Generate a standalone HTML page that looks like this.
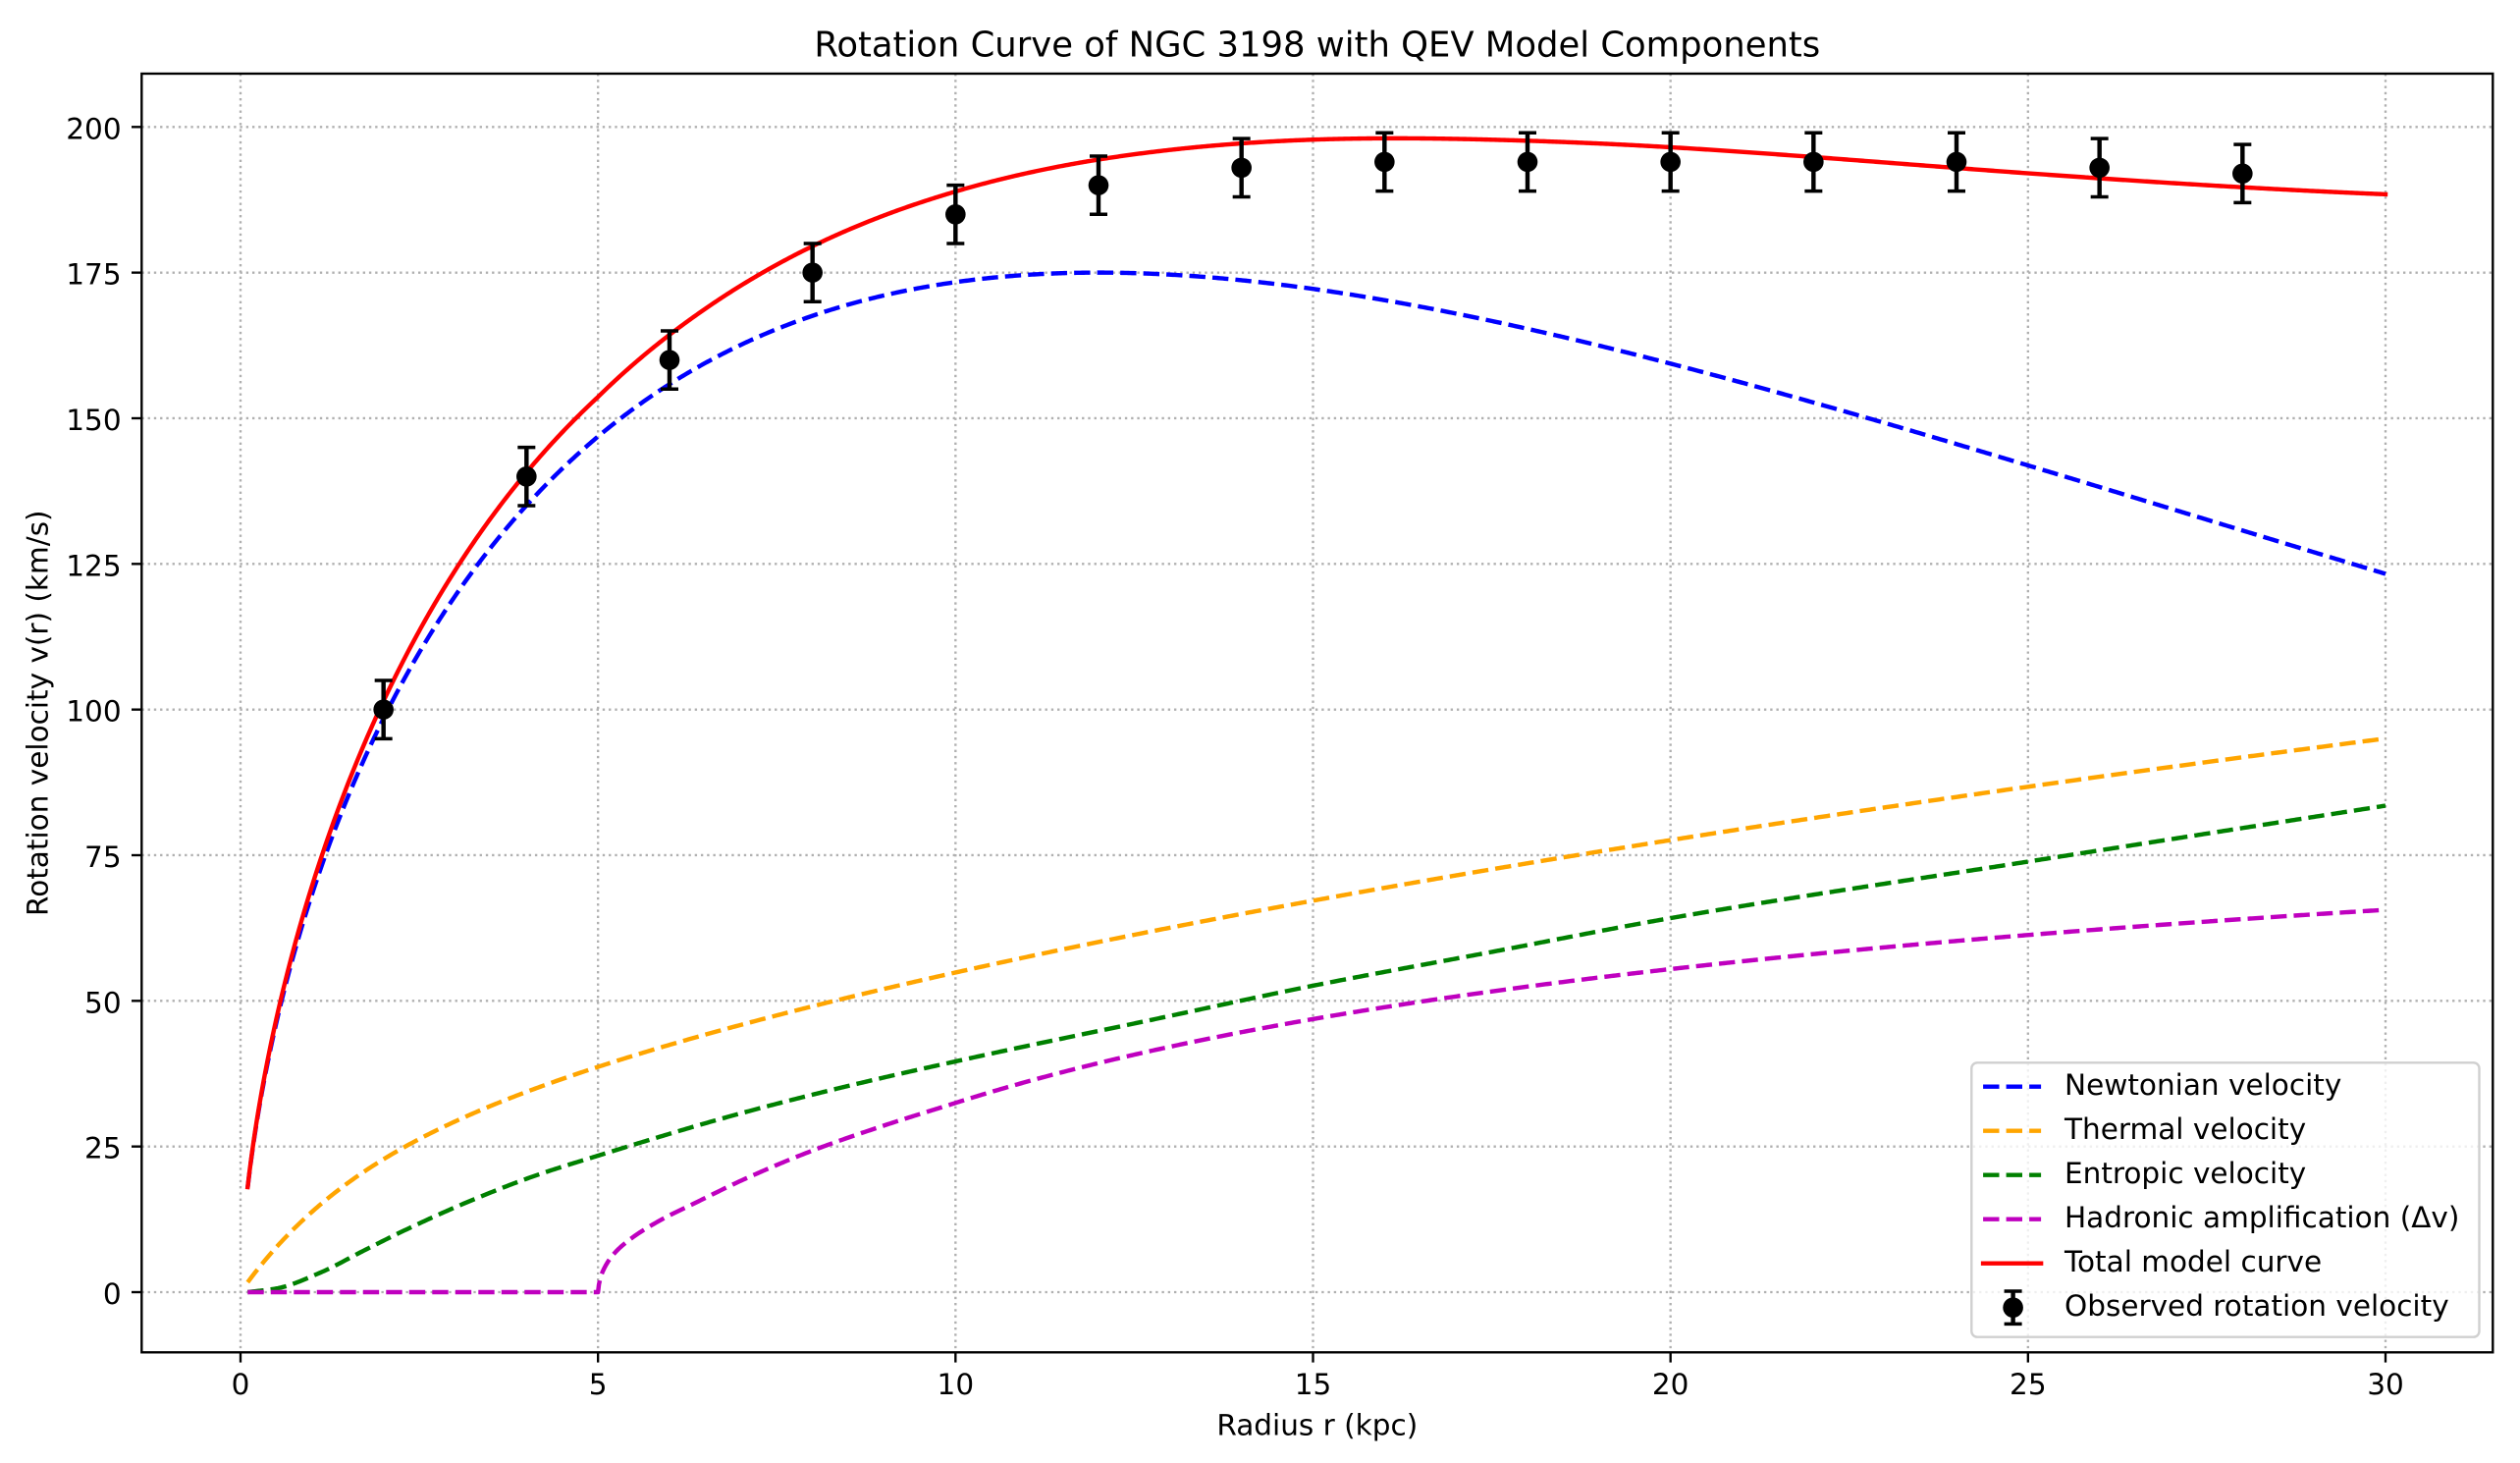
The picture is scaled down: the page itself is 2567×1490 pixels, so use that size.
<!DOCTYPE html>
<html><head><meta charset="utf-8">
<style>
html,body{margin:0;padding:0;background:#fff;}
svg{display:block;}
text{font-family:"DejaVu Sans","Liberation Sans",sans-serif;fill:#000;}
</style></head><body>
<svg id="s" width="2567" height="1490" viewBox="0 0 2567 1490" xmlns="http://www.w3.org/2000/svg">
<rect width="2567" height="1490" fill="#fff"/>
<g id="grid" stroke="#b0b0b0" stroke-width="2.36" stroke-dasharray="2.36 3.9" fill="none">
<line x1="245" y1="75" x2="245" y2="1377.3"/>
<line x1="609.17" y1="75" x2="609.17" y2="1377.3"/>
<line x1="973.33" y1="75" x2="973.33" y2="1377.3"/>
<line x1="1337.5" y1="75" x2="1337.5" y2="1377.3"/>
<line x1="1701.67" y1="75" x2="1701.67" y2="1377.3"/>
<line x1="2065.83" y1="75" x2="2065.83" y2="1377.3"/>
<line x1="2430" y1="75" x2="2430" y2="1377.3"/>
<line x1="144.3" y1="1316" x2="2539.3" y2="1316"/>
<line x1="144.3" y1="1167.66" x2="2539.3" y2="1167.66"/>
<line x1="144.3" y1="1019.33" x2="2539.3" y2="1019.33"/>
<line x1="144.3" y1="870.99" x2="2539.3" y2="870.99"/>
<line x1="144.3" y1="722.65" x2="2539.3" y2="722.65"/>
<line x1="144.3" y1="574.31" x2="2539.3" y2="574.31"/>
<line x1="144.3" y1="425.98" x2="2539.3" y2="425.98"/>
<line x1="144.3" y1="277.64" x2="2539.3" y2="277.64"/>
<line x1="144.3" y1="129.3" x2="2539.3" y2="129.3"/>
</g>
<g id="curves" fill="none" stroke-width="4.43" stroke-linejoin="round"></g>
<g id="pts"></g>
<rect x="144.3" y="75" width="2395" height="1302.3" fill="none" stroke="#000" stroke-width="2.36"/>
<g stroke="#000" stroke-width="2.36">
<line x1="245" y1="1377.3" x2="245" y2="1387.6"/>
<line x1="609.17" y1="1377.3" x2="609.17" y2="1387.6"/>
<line x1="973.33" y1="1377.3" x2="973.33" y2="1387.6"/>
<line x1="1337.5" y1="1377.3" x2="1337.5" y2="1387.6"/>
<line x1="1701.67" y1="1377.3" x2="1701.67" y2="1387.6"/>
<line x1="2065.83" y1="1377.3" x2="2065.83" y2="1387.6"/>
<line x1="2430" y1="1377.3" x2="2430" y2="1387.6"/>
<line x1="134" y1="1316" x2="144.3" y2="1316"/>
<line x1="134" y1="1167.66" x2="144.3" y2="1167.66"/>
<line x1="134" y1="1019.33" x2="144.3" y2="1019.33"/>
<line x1="134" y1="870.99" x2="144.3" y2="870.99"/>
<line x1="134" y1="722.65" x2="144.3" y2="722.65"/>
<line x1="134" y1="574.31" x2="144.3" y2="574.31"/>
<line x1="134" y1="425.98" x2="144.3" y2="425.98"/>
<line x1="134" y1="277.64" x2="144.3" y2="277.64"/>
<line x1="134" y1="129.3" x2="144.3" y2="129.3"/>
</g>
<g font-size="29.5" text-anchor="middle">
<text x="245" y="1420">0</text>
<text x="609.17" y="1420">5</text>
<text x="973.33" y="1420">10</text>
<text x="1337.5" y="1420">15</text>
<text x="1701.67" y="1420">20</text>
<text x="2065.83" y="1420">25</text>
<text x="2430" y="1420">30</text>
</g>
<g font-size="29.5" text-anchor="end">
<text x="123.6" y="1328">0</text>
<text x="123.6" y="1179.66">25</text>
<text x="123.6" y="1031.33">50</text>
<text x="123.6" y="882.99">75</text>
<text x="123.6" y="734.65">100</text>
<text x="123.6" y="586.31">125</text>
<text x="123.6" y="437.98">150</text>
<text x="123.6" y="289.64">175</text>
<text x="123.6" y="141.3">200</text>
</g>
<text x="1341.8" y="57.3" font-size="35.4" text-anchor="middle">Rotation Curve of NGC 3198 with QEV Model Components</text>
<text x="1341.8" y="1461.7" font-size="29.5" text-anchor="middle">Radius r (kpc)</text>
<text transform="translate(48.3,726.2) rotate(-90)" x="0" y="0" font-size="29.5" text-anchor="middle">Rotation velocity v(r) (km/s)</text>
<g id="legend">
<rect x="2008.3" y="1082.3" width="517.2" height="279.4" rx="5.9" ry="5.9" fill="#fff" fill-opacity="0.8" stroke="#d0d0d0" stroke-width="2.4"/>
<g stroke-width="4.43" fill="none">
<line x1="2020.1" y1="1106.7" x2="2079.1" y2="1106.7" stroke="#0000ff" stroke-dasharray="16.4 7.1"/>
<line x1="2020.1" y1="1151.7" x2="2079.1" y2="1151.7" stroke="#ffa500" stroke-dasharray="16.4 7.1"/>
<line x1="2020.1" y1="1196.7" x2="2079.1" y2="1196.7" stroke="#008000" stroke-dasharray="16.4 7.1"/>
<line x1="2020.1" y1="1241.7" x2="2079.1" y2="1241.7" stroke="#bf00bf" stroke-dasharray="16.4 7.1"/>
<line x1="2020.1" y1="1286.7" x2="2079.1" y2="1286.7" stroke="#ff0000" stroke-linecap="square"/>
</g>
<g stroke="#000">
<line x1="2050.6" y1="1315" x2="2050.6" y2="1348.4" stroke-width="4.43"/>
<line x1="2041.6" y1="1315" x2="2059.6" y2="1315" stroke-width="3.5"/>
<line x1="2041.6" y1="1348.4" x2="2059.6" y2="1348.4" stroke-width="3.5"/>
<circle cx="2050.6" cy="1331.7" r="10.3" fill="#000" stroke="none"/>
</g>
<g font-size="29.5">
<text x="2103" y="1115.2">Newtonian velocity</text>
<text x="2103" y="1160.2">Thermal velocity</text>
<text x="2103" y="1205.2">Entropic velocity</text>
<text x="2103" y="1250.2">Hadronic amplification (Δv)</text>
<text x="2103" y="1295.2">Total model curve</text>
<text x="2103" y="1340.2">Observed rotation velocity</text>
</g>
</g>
</svg>
<script>
(function(){
var NS="http://www.w3.org/2000/svg";
function X(r){return 245+72.8333*r;}
function Y(v){return 1316-5.9335*v;}
function vN(r){return 175*Math.pow(r/12,0.6)*Math.exp((12-r)/20);}
function vT(r){return 17.35*Math.sqrt(r*(1-Math.exp(-r)));}
function mono(xs,ys){
  var n=xs.length,d=[],m=[],i;
  for(i=0;i<n-1;i++)d.push((ys[i+1]-ys[i])/(xs[i+1]-xs[i]));
  m[0]=d[0];m[n-1]=d[n-2];
  for(i=1;i<n-1;i++){
    if(d[i-1]*d[i]<=0){m[i]=0;}
    else{var h0=xs[i]-xs[i-1],h1=xs[i+1]-xs[i];var w1=2*h1+h0,w2=h1+2*h0;m[i]=(w1+w2)/(w1/d[i-1]+w2/d[i]);}
  }
  return function(x){
    if(x<=xs[0])return ys[0];
    if(x>=xs[n-1])return ys[n-1];
    var k=0;while(x>xs[k+1])k++;
    var h=xs[k+1]-xs[k],t=(x-xs[k])/h,t2=t*t,t3=t2*t;
    return (2*t3-3*t2+1)*ys[k]+(t3-2*t2+t)*h*m[k]+(-2*t3+3*t2)*ys[k+1]+(t3-t2)*h*m[k+1];
  };
}
var gE=mono([0.1,0.5,1.12,1.716,2.31,3.2,4.1,5.02,6.91,8.5,10.37,12.65,15,17.5,20,25,30],
            [0,0.62,3.37,7.08,10.7,15.6,19.9,23.5,30.4,35.4,40.6,46.5,52.6,58.4,64.2,73.9,83.5]);
var gH=mono([5,5.02,5.057,5.195,5.42,5.88,6.34,7.03,8,9,10],
            [0,1.9,3.3,6.18,8.8,12.4,15.2,19.3,24.3,28.6,32.48]);
function vE(r){return Math.max(0,gE(r));}
function vH(r){if(r<=5)return 0;if(r<10)return gH(r);return 110.9*(1-Math.sqrt(5/r));}
function vTot(r){var a=vN(r),b=vT(r),c=vE(r),d=vH(r);return Math.sqrt(a*a+b*b+c*c+d*d);}
var rs=[],N=1200,i;
for(i=0;i<N;i++){rs.push(0.1+(30-0.1)*i/(N-1));}
rs.push(5);rs.sort(function(a,b){return a-b;});
function path(f){var s="";for(var j=0;j<rs.length;j++){s+=(j?"L":"M")+X(rs[j]).toFixed(2)+" "+Y(f(rs[j])).toFixed(2);}return s;}
var g=document.getElementById("curves");
function add(f,col,dash){
  var p=document.createElementNS(NS,"path");
  p.setAttribute("d",path(f));p.setAttribute("stroke",col);
  if(dash){p.setAttribute("stroke-dasharray","16.4 7.1");p.setAttribute("stroke-linecap","butt");}
  else{p.setAttribute("stroke-linecap","square");}
  g.appendChild(p);
}
add(vN,"#0000ff",true);
add(vT,"#ffa500",true);
add(vE,"#008000",true);
add(vH,"#bf00bf",true);
add(vTot,"#ff0000",false);
var pg=document.getElementById("pts");
var obs=[100,140,160,175,185,190,193,194,194,194,194,194,193,192];
function ln(x1,y1,x2,y2,w){var l=document.createElementNS(NS,"line");l.setAttribute("x1",x1);l.setAttribute("y1",y1);l.setAttribute("x2",x2);l.setAttribute("y2",y2);l.setAttribute("stroke","#000");l.setAttribute("stroke-width",w);pg.appendChild(l);}
for(i=0;i<obs.length;i++){
  var r=2*(i+1),x=X(r),v=obs[i];
  ln(x,Y(v-5),x,Y(v+5),4.43);
  ln(x-9,Y(v-5),x+9,Y(v-5),3.5);
  ln(x-9,Y(v+5),x+9,Y(v+5),3.5);
  var c=document.createElementNS(NS,"circle");c.setAttribute("cx",x);c.setAttribute("cy",Y(v));c.setAttribute("r",10.3);c.setAttribute("fill","#000");pg.appendChild(c);
}
})();
</script>
</body></html>
